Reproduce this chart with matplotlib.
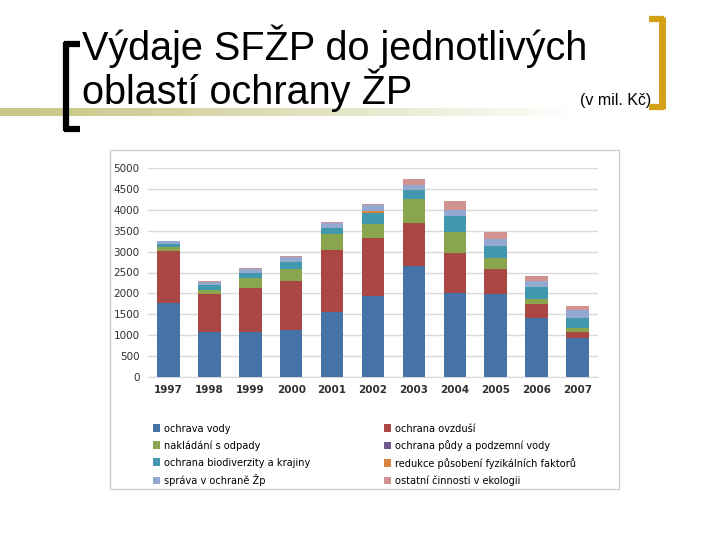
import matplotlib
matplotlib.use("Agg")
import matplotlib.pyplot as plt
import numpy as np
from matplotlib.patches import Rectangle
from matplotlib.lines import Line2D
from matplotlib.font_manager import FontProperties

years = ["1997", "1998", "1999", "2000", "2001", "2002", "2003", "2004", "2005", "2006", "2007"]
ochrana_vody = [1775, 1070, 1070, 1125, 1550, 1935, 2665, 2015, 1990, 1410, 925]
ochrana_ovzdusi = [1235, 915, 1060, 1165, 1485, 1395, 1020, 945, 595, 325, 145]
nakladani_odpady = [105, 90, 240, 305, 375, 330, 580, 520, 265, 130, 105]
ochrana_pudy = [0, 0, 0, 0, 0, 0, 0, 0, 0, 0, 0]
ochrana_biodiverzity = [70, 120, 120, 160, 145, 275, 215, 360, 280, 280, 225]
redukce_fyz = [0, 0, 0, 0, 0, 40, 0, 0, 0, 0, 0]
sprava = [70, 80, 95, 105, 120, 135, 120, 155, 160, 150, 195]
ostatni = [10, 15, 30, 30, 40, 30, 135, 210, 170, 115, 105]

series_names = ["ochrava vody", "ochrana ovzduší", "nakládání s odpady",
                "ochrana půdy a podzemní vody", "ochrana biodiverzity a krajiny",
                "redukce působení fyzikálních faktorů", "správa v ochraně Žp",
                "ostatní činnosti v ekologii"]
series_values = [ochrana_vody, ochrana_ovzdusi, nakladani_odpady, ochrana_pudy,
                 ochrana_biodiverzity, redukce_fyz, sprava, ostatni]
colors = ["#4572A7", "#AA4643", "#89A54E", "#71588F", "#4198AF", "#DB843D", "#93A9CF", "#D19392"]
yticks = [0, 500, 1000, 1500, 2000, 2500, 3000, 3500, 4000, 4500, 5000]

W, H = 720, 540
fig = plt.figure(figsize=(7.2, 5.4), dpi=100)
fig.patch.set_facecolor("white")

def fx(x):
    return x / W

def fy(y):
    return 1 - y / H

# gradient bar under title
grad = fig.add_axes([0, fy(116), fx(720), 8 / H])
g = np.linspace(0, 1, 300)
c0 = np.array([0.78, 0.78, 0.53])
c1 = np.array([1.0, 1.0, 1.0])
alpha = np.clip(g / 0.8, 0, 1) ** 1.2
img = (c0[None, :] * (1 - alpha[:, None]) + c1[None, :] * alpha[:, None])[None, :, :]
grad.imshow(img, aspect="auto", extent=[0, 1, 0, 1])
grad.set_axis_off()

# brackets
fig.add_artist(Line2D([fx(66), fx(66)], [fy(42), fy(131)], color="black", lw=4.5, solid_capstyle="butt"))
fig.add_artist(Line2D([fx(64), fx(80)], [fy(44), fy(44)], color="black", lw=4.5, solid_capstyle="butt"))
fig.add_artist(Line2D([fx(64), fx(80)], [fy(129), fy(129)], color="black", lw=4.5, solid_capstyle="butt"))
gold = "#D4A017"
fig.add_artist(Line2D([fx(662), fx(662)], [fy(17), fy(109)], color=gold, lw=5, solid_capstyle="butt"))
fig.add_artist(Line2D([fx(649), fx(664)], [fy(19), fy(19)], color=gold, lw=4.5, solid_capstyle="butt"))
fig.add_artist(Line2D([fx(649), fx(664)], [fy(107), fy(107)], color=gold, lw=4.5, solid_capstyle="butt"))

# title
fig.text(fx(82), fy(60), "Výdaje SFŽP do jednotlivých", fontsize=28.5, family="Liberation Sans",
         va="baseline", ha="left", color="black")
fig.text(fx(82), fy(104), "oblastí ochrany ŽP", fontsize=28.5, family="Liberation Sans",
         va="baseline", ha="left", color="black")
fig.text(fx(580), fy(105), "(v mil. Kč)", fontsize=11.5, family="Liberation Sans",
         va="baseline", ha="left", color="black", zorder=0)

# chart frame
fig.add_artist(Rectangle((fx(110), fy(489)), fx(619 - 110), (489 - 150) / H,
                         facecolor="white", edgecolor="#D0D0D0", lw=1.0, zorder=0))

ax = fig.add_axes([fx(148), fy(377), fx(598 - 148), (377 - 168) / H])
x = np.arange(len(years))
bottom = np.zeros(len(years))
for name, vals, col in zip(series_names, series_values, colors):
    v = np.array(vals, dtype=float)
    ax.bar(x, v, width=0.55, bottom=bottom, color=col, label=name, zorder=3)
    bottom += v
ax.set_xlim(-0.5, len(years) - 0.5)
ax.set_ylim(0, 5000)
ax.set_yticks(yticks)
ax.set_yticklabels([str(t) for t in yticks], fontsize=7.5, color="#303030")
ax.set_xticks(x)
ax.set_xticklabels(years, fontsize=7.5, fontweight="bold", color="#303030")
ax.yaxis.grid(True, color="#D9D9D9", lw=1.0, zorder=0)
for s in ["top", "right", "left"]:
    ax.spines[s].set_visible(False)
ax.spines["bottom"].set_color("#D9D9D9")
ax.tick_params(axis="both", length=0, pad=6)
ax.set_facecolor("white")

handles, labels = ax.get_legend_handles_labels()
lp = FontProperties(family="DejaVu Sans", stretch="condensed", size=7.8)
leg1 = fig.legend(handles[0::2], labels[0::2], loc="upper left", bbox_to_anchor=(fx(143), fy(414)),
                  ncol=1, frameon=False, handlelength=0.7, handleheight=0.7,
                  handletextpad=0.3, labelspacing=0.62, prop=lp)
leg2 = fig.legend(handles[1::2], labels[1::2], loc="upper left", bbox_to_anchor=(fx(374), fy(414)),
                  ncol=1, frameon=False, handlelength=0.7, handleheight=0.7,
                  handletextpad=0.3, labelspacing=0.62, prop=lp)
fig.savefig("out.png", dpi=100, facecolor="white")
